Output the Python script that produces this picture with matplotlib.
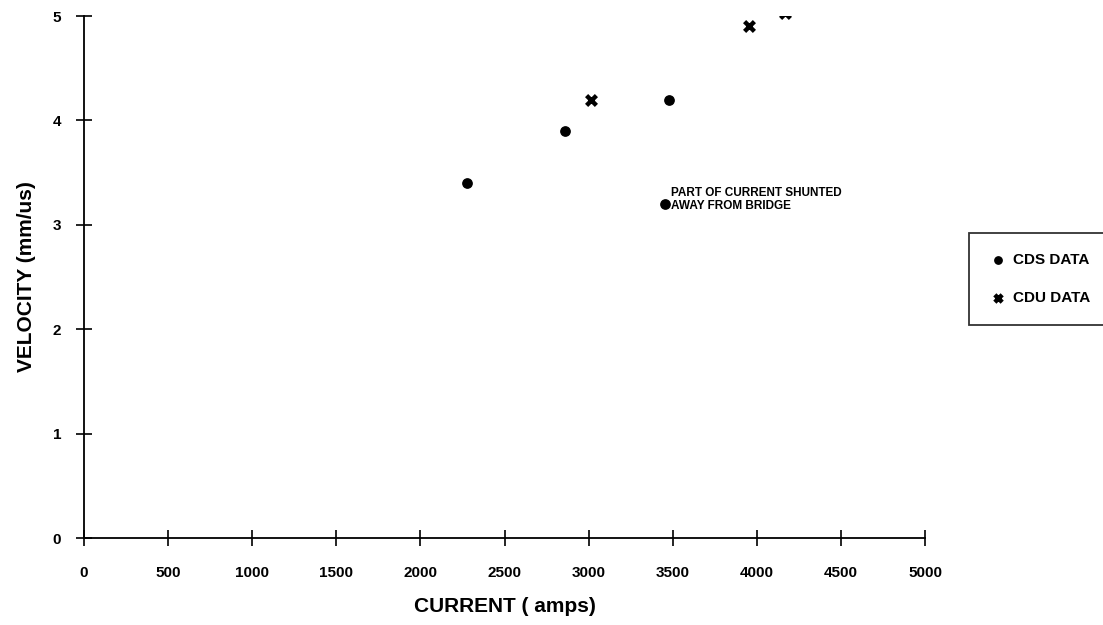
import matplotlib
matplotlib.use('Agg')
import matplotlib.pyplot as plt

plt.rcParams['font.family'] = ['Liberation Sans', 'DejaVu Sans']
plt.rcParams['font.weight'] = 'bold'

# CDS data (filled circles)
cds_current = [2280, 2860, 3480, 3455]
cds_velocity = [3.4, 3.9, 4.2, 3.2]

# CDU data (x markers)
cdu_current = [3015, 3955, 4170]
cdu_velocity = [4.2, 4.9, 5.03]

x_ticks = [0, 500, 1000, 1500, 2000, 2500, 3000, 3500, 4000, 4500, 5000]
y_ticks = [0, 1, 2, 3, 4, 5]

fig = plt.figure(figsize=(11.03, 6.25), dpi=100)
ax = fig.add_axes([84 / 1103, 1 - 538 / 625, (925 - 84) / 1103, (538 - 16) / 625])

ax.scatter(cds_current, cds_velocity, marker='o', s=45, color='black', label='CDS DATA', zorder=3)
ax.scatter(cdu_current, cdu_velocity, marker='x', s=50, linewidths=3.2, color='black', label='CDU DATA', zorder=3)

# note next to the low point
ax.annotate('PART OF CURRENT SHUNTED\nAWAY FROM BRIDGE', xy=(3455, 3.2), xytext=(4.5, 3),
            textcoords='offset points', fontsize=8.5, fontweight='bold', va='center', ha='left',
            linespacing=1.1)

ax.set_xlim(0, 5000)
ax.set_ylim(0, 5)
ax.set_xticks(x_ticks)
ax.set_yticks(y_ticks)
ax.tick_params(axis='both', direction='inout', length=11, width=1.2, labelsize=11)
ax.tick_params(axis='x', pad=15)
ax.tick_params(axis='y', pad=11)
for lab in ax.get_xticklabels() + ax.get_yticklabels():
    lab.set_fontweight('bold')

for s in ['top', 'right']:
    ax.spines[s].set_visible(False)
for s in ['left', 'bottom']:
    ax.spines[s].set_linewidth(1.3)

ax.set_xlabel('CURRENT ( amps)', fontsize=15, fontweight='bold', labelpad=12)
ax.set_ylabel('VELOCITY (mm/us)', fontsize=15, fontweight='bold', labelpad=12)

leg = fig.legend(loc='upper left', bbox_to_anchor=(969 / 1103, 1 - 233 / 625), borderaxespad=0,
                 frameon=True, fancybox=False, edgecolor='black', handletextpad=0.4,
                 labelspacing=1.6, borderpad=1.3, handlelength=1.2, prop={'weight': 'bold', 'size': 11})
leg.get_frame().set_linewidth(1.3)
for h in leg.legend_handles:
    h.set_sizes([28])

fig.savefig('out.png', dpi=100)
